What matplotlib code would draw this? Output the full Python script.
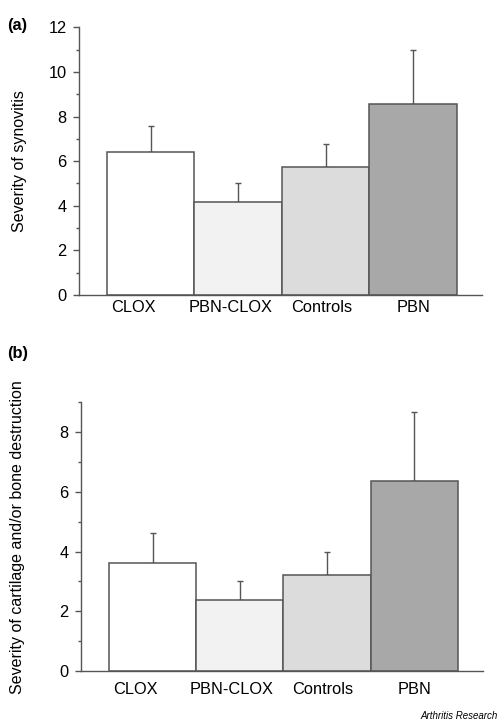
import numpy as np
import matplotlib.pyplot as plt
from matplotlib.ticker import MultipleLocator

# data
groups = ['CLOX', 'PBN-CLOX', 'Controls', 'PBN']
synovitis = [6.43, 4.16, 5.75, 8.58]
synovitis_top = [7.59, 5.01, 6.76, 11.0]
destruction = [3.62, 2.38, 3.20, 6.38]
destruction_top = [4.63, 3.01, 4.00, 8.69]

bar_colours = ['#ffffff', '#f2f2f2', '#dcdcdc', '#a8a8a8']
edge = '#555555'
label_pos = [-0.2, 0.91, 1.95, 3.0]  # labels sit a bit off the bar centres

plt.rcParams['font.family'] = ['Liberation Sans', 'DejaVu Sans']
fs = 11.8

fig = plt.figure(figsize=(5, 7.24), dpi=100)
ax_a = fig.add_axes([0.158, 0.5925, 0.806, 0.3698])
ax_b = fig.add_axes([0.162, 0.0732, 0.804, 0.3711])


def draw_panel(ax, vals, tops, ymax, ylabel, xpad):
    x = np.arange(len(vals))
    err = np.array(tops) - np.array(vals)
    ax.errorbar(x, vals, yerr=[np.zeros(len(vals)), err], fmt='none',
                ecolor=edge, elinewidth=1, capsize=2.5, capthick=1, zorder=1)
    ax.bar(x, vals, width=1.0, color=bar_colours, edgecolor=edge,
           linewidth=1.1, zorder=2)
    ax.set_xlim(-0.82, 3.786)
    ax.set_ylim(0, ymax)
    ax.yaxis.set_major_locator(MultipleLocator(2))
    ax.yaxis.set_minor_locator(MultipleLocator(1))
    ax.set_xticks(label_pos)
    ax.set_xticklabels(groups, fontsize=fs)
    ax.tick_params(axis='x', length=0, pad=xpad)
    ax.tick_params(axis='y', which='major', length=4, width=1, color=edge,
                   labelsize=fs, pad=5)
    ax.tick_params(axis='y', which='minor', length=2.5, width=1, color=edge)
    for s in ['top', 'right']:
        ax.spines[s].set_visible(False)
    for s in ['left', 'bottom']:
        ax.spines[s].set_color(edge)
        ax.spines[s].set_linewidth(1)
    ax.set_ylabel(ylabel, fontsize=11.5)


draw_panel(ax_a, synovitis, synovitis_top, 12, 'Severity of synovitis', 3.5)
draw_panel(ax_b, destruction, destruction_top, 9,
           'Severity of cartilage and/or bone destruction', 8)
ax_a.yaxis.set_label_coords(-0.13, 0.5)
ax_b.yaxis.set_label_coords(-0.14, 0.5)

fig.text(0.014, 0.965, '(a)', fontsize=11.8, fontweight='bold', va='center')
fig.text(0.014, 0.512, '(b)', fontsize=11.8, fontweight='bold', va='center')
fig.text(0.996, 0.011, 'Arthritis Research', fontsize=7, style='italic',
         ha='right', va='center')

fig.savefig('out.png', dpi=100)
